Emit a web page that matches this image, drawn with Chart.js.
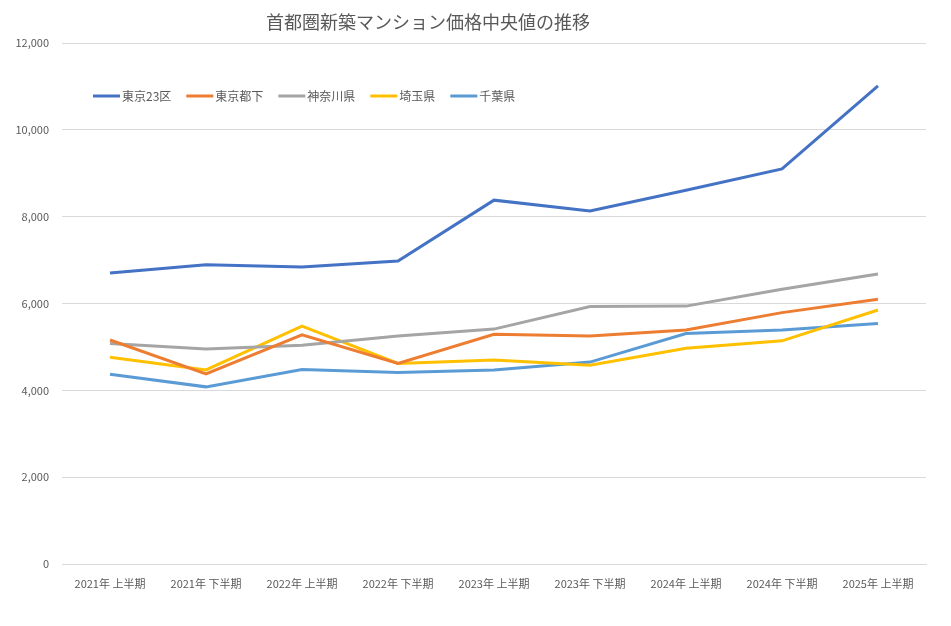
<!DOCTYPE html>
<html lang="ja">
<head>
<meta charset="utf-8">
<script src="https://cdn.jsdelivr.net/npm/chart.js@4/dist/chart.umd.min.js"></script>
<style>
  html, body { margin: 0; padding: 0; background: #fff; }
  #wrap { width: 951px; height: 626px; position: relative; }
</style>
</head>
<body>
<div id="wrap"><canvas id="priceChart"></canvas></div>
<script>
const FONT = '"Noto Sans CJK JP", "Noto Sans", sans-serif';
const TEXT_COLOR = '#595959';

const chartTitle = '首都圏新築マンション価格中央値の推移';
const periods = ['2021年 上半期', '2021年 下半期', '2022年 上半期', '2022年 下半期', '2023年 上半期',
                 '2023年 下半期', '2024年 上半期', '2024年 下半期', '2025年 上半期'];
const seriesNames = ['東京23区', '東京都下', '神奈川県', '埼玉県', '千葉県'];

const tokyo23 = [6700, 6890, 6840, 6980, 8380, 8130, 8610, 9100, 11010];
const tokyoTama = [5160, 4380, 5280, 4620, 5290, 5250, 5390, 5790, 6100];
const kanagawa = [5080, 4950, 5040, 5250, 5410, 5930, 5940, 6330, 6680];
const saitama = [4760, 4470, 5480, 4620, 4700, 4580, 4970, 5140, 5850];
const chiba = [4370, 4080, 4480, 4410, 4470, 4650, 5310, 5390, 5540];

const colors = ['#4472C4', '#ED7D31', '#A5A5A5', '#FFC000', '#5B9BD5'];

// タイトルと凡例はグラフ領域の内側に描く
const titleLegendPlugin = {
    id: 'titleLegendPlugin',
    afterDraw(chart) {
        const {ctx} = chart;
        ctx.save();
        ctx.fillStyle = TEXT_COLOR;
        ctx.font = `18px ${FONT}`;
        ctx.textAlign = 'center';
        ctx.textBaseline = 'middle';
        ctx.fillText(chartTitle, 428, 22);

        ctx.font = `12px ${FONT}`;
        ctx.textAlign = 'left';
        let x = 93;
        const y = 96;
        chart.data.datasets.forEach(ds => {
            ctx.beginPath();
            ctx.strokeStyle = ds.borderColor;
            ctx.lineWidth = 3;
            ctx.moveTo(x, y);
            ctx.lineTo(x + 27, y);
            ctx.stroke();
            ctx.fillStyle = TEXT_COLOR;
            ctx.fillText(ds.label, x + 29, y);
            x += 29 + ctx.measureText(ds.label).width + 15;
        });
        ctx.restore();
    }
};

const seriesData = [tokyo23, tokyoTama, kanagawa, saitama, chiba];

const ctx = document.getElementById('priceChart').getContext('2d');
const chart = new Chart(ctx, {
    type: 'line',
    data: {
        labels: periods,
        datasets: seriesData.map((data, i) => ({
            label: seriesNames[i],
            data: data,
            borderColor: colors[i],
            backgroundColor: colors[i],
            borderWidth: 3,
            pointRadius: 0,
            tension: 0,
            fill: false
        }))
    },
    options: {
        responsive: true,
        maintainAspectRatio: false,
        animation: false,
        layout: { padding: { left: 0, right: 25, top: 43, bottom: 0 } },
        plugins: {
            legend: { display: false },
            title: { display: false },
            tooltip: { enabled: false }
        },
        scales: {
            x: {
                offset: true,
                grid: { display: false, drawTicks: false },
                border: { display: true, color: '#d9d9d9', width: 1 },
                ticks: {
                    color: TEXT_COLOR,
                    font: { family: FONT, size: 11 },
                    padding: 13,
                    maxRotation: 0,
                    autoSkip: false
                },
                afterFit(scale) { scale.height = 62; }
            },
            y: {
                min: 0,
                max: 12000,
                grid: { color: '#d9d9d9', drawTicks: false },
                border: { display: false },
                ticks: {
                    stepSize: 2000,
                    color: TEXT_COLOR,
                    font: { family: FONT, size: 11 },
                    padding: 13,
                    callback: v => v.toLocaleString('en-US')
                },
                afterFit(scale) { scale.width = 62; }
            }
        }
    },
    plugins: [titleLegendPlugin]
});
</script>
</body>
</html>
